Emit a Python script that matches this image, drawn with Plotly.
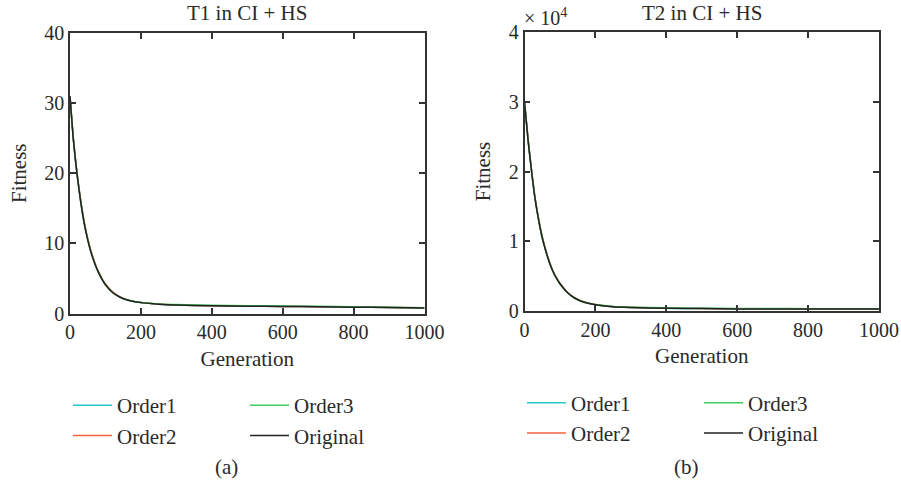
import plotly.graph_objects as go

# ---------------- data ----------------
generations = [0, 10, 20, 30, 40, 50, 60, 70, 80, 90, 100, 120, 140, 160, 180,
               200, 250, 300, 400, 500, 600, 700, 800, 900, 1000]

t1_original = [31.0, 24.5, 19.8, 16.0, 12.9, 10.5, 8.6, 7.1, 5.9, 4.9, 4.1, 3.0, 2.35, 1.95, 1.7,
               1.55, 1.32, 1.2, 1.1, 1.05, 1.0, 0.97, 0.9, 0.85, 0.8]
t1_order1 = [31.0, 24.6, 19.9, 16.1, 13.0, 10.6, 8.7, 7.2, 5.95, 4.95, 4.15, 3.05, 2.38, 1.97, 1.72,
             1.56, 1.33, 1.21, 1.1, 1.05, 1.0, 0.97, 0.9, 0.85, 0.8]
t1_order2 = [31.0, 24.7, 20.0, 16.2, 13.1, 10.7, 8.8, 7.25, 6.0, 5.0, 4.2, 3.08, 2.4, 1.98, 1.73,
             1.57, 1.34, 1.22, 1.11, 1.06, 1.01, 0.98, 0.91, 0.86, 0.81]
t1_order3 = [31.0, 24.5, 19.8, 16.0, 12.9, 10.5, 8.6, 7.1, 5.9, 4.9, 4.1, 3.0, 2.36, 1.96, 1.72,
             1.58, 1.37, 1.27, 1.17, 1.12, 1.07, 1.03, 0.95, 0.88, 0.82]

t2_original = [30000, 24500, 20000, 16000, 13000, 10500, 8600, 7000, 5700, 4700, 3900, 2700, 1900,
               1400, 1100, 900, 600, 500, 400, 350, 300, 300, 300, 300, 300]
t2_order1 = [30000, 24600, 20100, 16100, 13100, 10600, 8700, 7050, 5750, 4750, 3950, 2730, 1920,
             1420, 1110, 910, 610, 500, 400, 350, 300, 300, 300, 300, 300]
t2_order2 = [30000, 24700, 20200, 16200, 13200, 10700, 8750, 7100, 5800, 4800, 4000, 2760, 1950,
             1440, 1120, 920, 620, 510, 410, 355, 305, 300, 300, 300, 300]
t2_order3 = [30000, 24500, 20000, 16000, 13000, 10500, 8600, 7000, 5700, 4700, 3900, 2700, 1900,
             1400, 1120, 930, 650, 550, 450, 400, 360, 350, 340, 330, 320]

series_names = ["Order1", "Order2", "Order3", "Original"]
series_colors = ["#22c8c8", "#f2603e", "#3ec95a", "#222222"]

x_ticks = [0, 200, 400, 600, 800, 1000]
t1_yticks = [0, 10, 20, 30, 40]
t2_yticks = [0, 10000, 20000, 30000, 40000]
t2_yticklabels = ["0", "1", "2", "3", "4"]

# ---------------- figure ----------------
FONT = "Liberation Serif"
TXT = "#2a2a2a"
W, H = 901, 487

fig = go.Figure()

t1_data = [t1_order1, t1_order2, t1_order3, t1_original]
t2_data = [t2_order1, t2_order2, t2_order3, t2_original]
legend_ids_left = ["legend", "legend", "legend2", "legend2"]
legend_ids_right = ["legend3", "legend3", "legend4", "legend4"]

for name, color, ys, lg in zip(series_names, series_colors, t1_data, legend_ids_left):
    fig.add_trace(go.Scatter(x=generations, y=ys, mode="lines", name=name,
                             line=dict(color=color, width=1.5, shape="spline", smoothing=0.6),
                             xaxis="x", yaxis="y", legend=lg))
for name, color, ys, lg in zip(series_names, series_colors, t2_data, legend_ids_right):
    fig.add_trace(go.Scatter(x=generations, y=ys, mode="lines", name=name,
                             line=dict(color=color, width=1.5, shape="spline", smoothing=0.6),
                             xaxis="x2", yaxis="y2", legend=lg))

axis_common = dict(showline=True, linecolor="#333333", linewidth=1.5, mirror="ticks",
                   ticks="inside", ticklen=6, tickwidth=1.5, tickcolor="#333333",
                   showgrid=False, zeroline=False, automargin=False,
                   tickfont=dict(family=FONT, size=20, color=TXT))

def ydom(top_px, bot_px):
    return [1 - bot_px / H, 1 - top_px / H]

title_font = dict(family=FONT, size=21, color=TXT)

fig.update_layout(
    width=W, height=H, margin=dict(l=0, r=0, t=0, b=0, autoexpand=False),
    paper_bgcolor="white", plot_bgcolor="white",
    font=dict(family=FONT, color=TXT),
    xaxis=dict(domain=[70 / W, 424.5 / W], range=[0, 1000], tickvals=x_ticks,
               title=dict(text="Generation", font=title_font, standoff=9),
               anchor="y", **axis_common),
    yaxis=dict(domain=ydom(33, 313.5), range=[0, 40], tickvals=t1_yticks,
               title=dict(text="Fitness", font=title_font, standoff=12),
               anchor="x", **axis_common),
    xaxis2=dict(domain=[524.5 / W, 879 / W], range=[0, 1000], tickvals=x_ticks,
                title=dict(text="Generation", font=title_font, standoff=9),
                anchor="y2", **axis_common),
    yaxis2=dict(domain=ydom(32, 311), range=[0, 40000], tickvals=t2_yticks, ticktext=t2_yticklabels,
                title=dict(text="Fitness", font=title_font, standoff=12),
                anchor="x2", **axis_common),
)

leg_common = dict(orientation="v", bgcolor="rgba(0,0,0,0)", borderwidth=0,
                  font=dict(family=FONT, size=21, color=TXT), yanchor="middle", xanchor="left",
                  tracegroupgap=0, itemwidth=39)
fig.update_layout(
    legend=dict(x=68 / W, y=1 - 420.5 / H, **leg_common),
    legend2=dict(x=245 / W, y=1 - 420.5 / H, **leg_common),
    legend3=dict(x=522 / W, y=1 - 418 / H, **leg_common),
    legend4=dict(x=699 / W, y=1 - 418 / H, **leg_common),
)

annotations = [
    dict(text="T1 in CI + HS", x=247 / W, y=1 - 13 / H, xref="paper", yref="paper",
         showarrow=False, xanchor="center", yanchor="middle", font=dict(family=FONT, size=21, color=TXT)),
    dict(text="T2 in CI + HS", x=702 / W, y=1 - 13 / H, xref="paper", yref="paper",
         showarrow=False, xanchor="center", yanchor="middle", font=dict(family=FONT, size=21, color=TXT)),
    dict(text="× 10<sup>4</sup>", x=522 / W, y=1 - 31 / H, xref="paper", yref="paper",
         showarrow=False, xanchor="left", yanchor="bottom", font=dict(family=FONT, size=20, color=TXT)),
    dict(text="(a)", x=226 / W, y=1 - 467 / H, xref="paper", yref="paper",
         showarrow=False, xanchor="center", yanchor="middle", font=dict(family=FONT, size=21, color=TXT)),
    dict(text="(b)", x=686 / W, y=1 - 467 / H, xref="paper", yref="paper",
         showarrow=False, xanchor="center", yanchor="middle", font=dict(family=FONT, size=21, color=TXT)),
]
fig.update_layout(annotations=annotations)

fig.write_html("out.html")
